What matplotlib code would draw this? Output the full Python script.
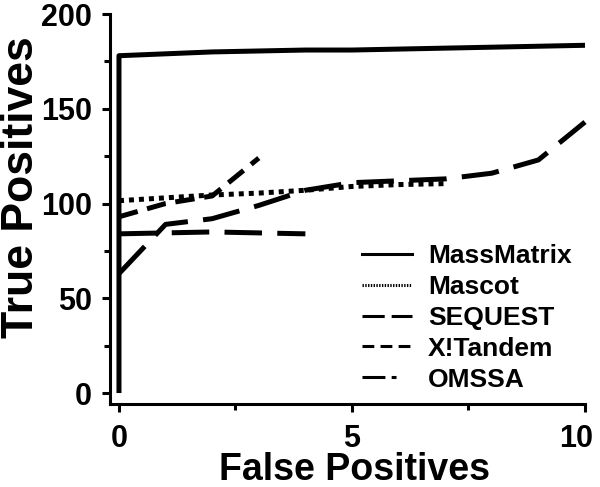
import matplotlib
matplotlib.use("Agg")
import matplotlib.pyplot as plt
import matplotlib.transforms as mtransforms
from matplotlib.lines import Line2D

# ==================================================
# data
# ==================================================
massmatrix_x = [0, 0, 1, 2, 3, 4, 5, 6, 7, 8, 9, 10]
massmatrix_y = [0, 178, 179, 180, 180.5, 181, 181, 181.5, 182, 182.5, 183, 183.5]

mascot_x = [0, 1, 2, 3, 4, 5, 6, 7]
mascot_y = [101.5, 103, 104.5, 105.5, 107, 109, 110, 110.5]

sequest_x = [0, 1, 2, 3, 4, 5, 6, 7, 8, 9, 10]
sequest_y = [63, 89, 92, 99, 107, 111, 112, 113, 116, 123, 143]

xtandem_x = [0, 1, 2, 3]
xtandem_y = [93, 100, 104, 124]

omssa_x = [0, 1, 2, 3, 4]
omssa_y = [84, 84.5, 85, 84.5, 84]

labels = ["MassMatrix", "Mascot", "SEQUEST", "X!Tandem", "OMSSA"]
x_ticks = [0, 5, 10]
y_ticks = [0, 50, 100, 150, 200]

plt.rcParams["font.family"] = ["Liberation Sans", "DejaVu Sans"]
plt.rcParams["font.weight"] = "bold"
plt.rcParams["lines.scale_dashes"] = False

fig = plt.figure(figsize=(6, 4.87), dpi=100)
ax = fig.add_axes([0.1833, 0.1704, 0.7917, 0.8008])

lw = 3.6
ax.plot(massmatrix_x, massmatrix_y, color="black", lw=lw, solid_capstyle="butt", clip_on=False)
ax.plot(mascot_x, mascot_y, color="black", lw=lw, linestyle=(0, (3.6, 3.6)), clip_on=False)
ax.plot(sequest_x, sequest_y, color="black", lw=lw, linestyle=(0, (27, 11)), clip_on=False)
ax.plot(xtandem_x, xtandem_y, color="black", lw=lw, linestyle=(0, (14, 7)), clip_on=False)
ax.plot(omssa_x, omssa_y, color="black", lw=lw, linestyle=(0, (27, 11)), clip_on=False)

ax.set_xlim(-0.193, 10)
ax.set_ylim(-5.8, 200)
ax.set_xticks(x_ticks)
ax.set_yticks(y_ticks)
ax.set_xticks([2.5, 7.5], minor=True)
ax.set_yticks([25, 75, 125, 175], minor=True)
ax.tick_params(which="major", length=6, width=2.2, labelsize=22)
ax.tick_params(which="minor", length=4.5, width=2.2)
ax.tick_params(axis="x", which="major", pad=8.5)
ax.tick_params(axis="y", which="major", pad=7)

# last x label sits a little left of its tick, as in the reference
fig.canvas.draw()
last = ax.get_xticklabels()[-1]
last.set_transform(last.get_transform() + mtransforms.ScaledTranslation(-9 / 100, 0, fig.dpi_scale_trans))

for side in ["top", "right"]:
    ax.spines[side].set_visible(False)
for side in ["left", "bottom"]:
    ax.spines[side].set_linewidth(2.2)

ax.set_xlabel("False Positives", fontsize=27, fontweight="bold")
ax.set_ylabel("True Positives", fontsize=32, fontweight="bold")
ax.xaxis.set_label_coords(0.514, -0.122)
ax.yaxis.set_label_coords(-0.143, 0.556)

# legend with thinner proxy lines
hlw = 2.2
handles = [
    Line2D([], [], color="black", lw=hlw),
    Line2D([], [], color="black", lw=hlw, linestyle=(0, (1, 1))),
    Line2D([], [], color="black", lw=hlw, linestyle=(0, (16, 5))),
    Line2D([], [], color="black", lw=hlw, linestyle=(0, (8.5, 4.5))),
    Line2D([], [], color="black", lw=hlw, linestyle=(0, (16.5, 4.5, 3.5, 20))),
]
ax.legend(handles, labels, loc="upper left", bbox_to_anchor=(0.5305, 0.41),
          frameon=False, borderpad=0, borderaxespad=0, handlelength=1.9,
          handletextpad=0.6, labelspacing=0.26, prop={"size": 19, "weight": "bold"})

fig.savefig("out.png", dpi=100)
